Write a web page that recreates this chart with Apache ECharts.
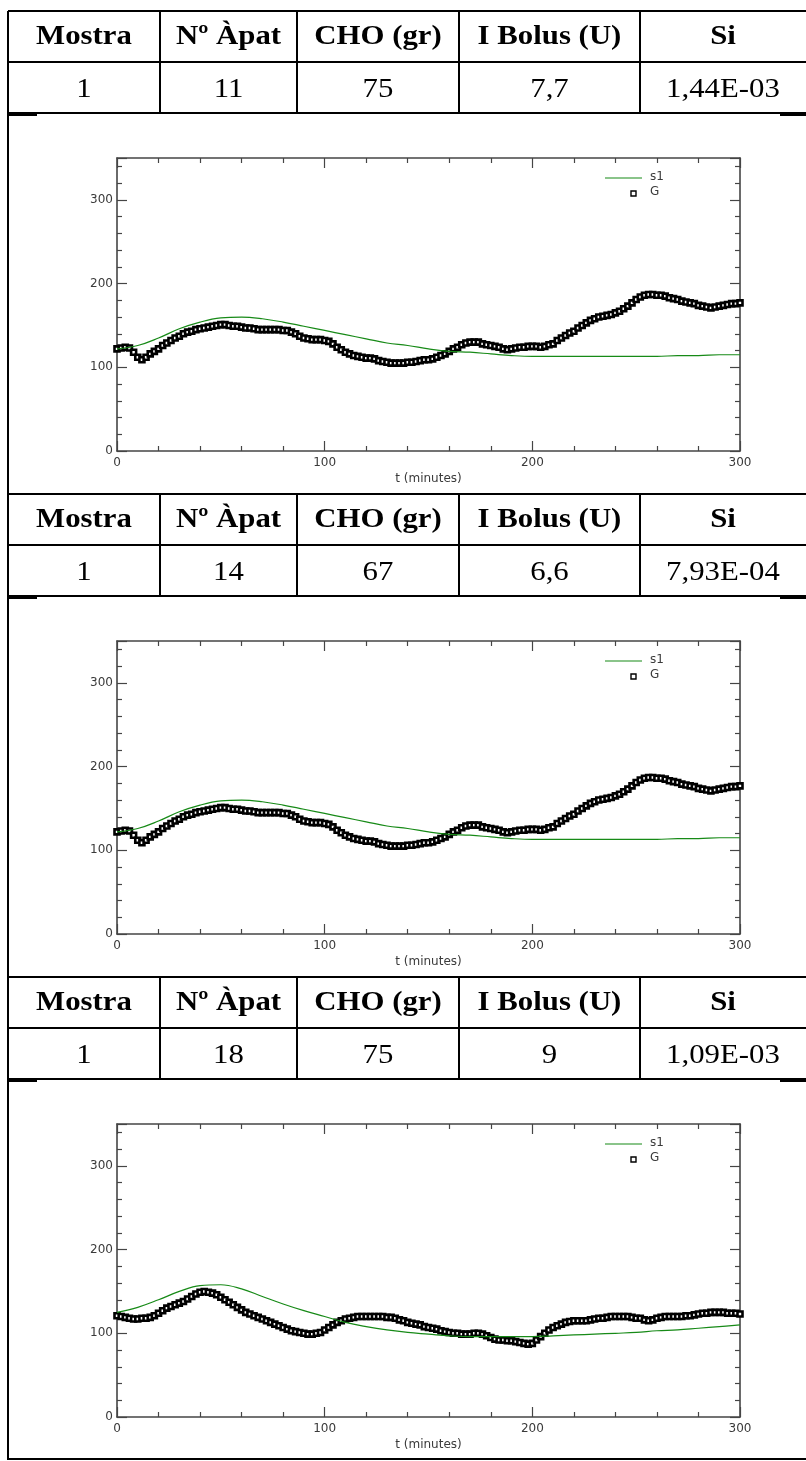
<!DOCTYPE html>
<html>
<head>
<meta charset="utf-8">
<script src="https://cdn.jsdelivr.net/npm/echarts@6/dist/echarts.min.js"></script>
<style>
  html, body { margin: 0; padding: 0; background: #fff; }
  #main { width: 806px; height: 1461px; }
</style>
</head>
<body>
<div id="main"></div>
<script>
// table contents
const headers = ['Mostra', 'Nº Àpat', 'CHO (gr)', 'I Bolus (U)', 'Si'];
const rows = [
  ['1', '11', '75', '7,7', '1,44E-03'],
  ['1', '14', '67', '6,6', '7,93E-04'],
  ['1', '18', '75', '9', '1,09E-03']
];

// model output s1, one value every 10 min (0..300)
const s1Times = [0, 10, 20, 30, 40, 50, 60, 70, 80, 90, 100, 110, 120, 130, 140, 150,
  160, 170, 180, 190, 200, 210, 220, 230, 240, 250, 260, 270, 280, 290, 300];
const s1Meal11 = [122, 126, 135, 146, 154, 159, 160, 158, 154, 149, 144, 139, 134, 129, 126, 122,
  119, 118, 116, 114, 113, 113, 113, 113, 113, 113, 113, 114, 114, 115, 115];
const s1Meal14 = [122, 126, 135, 146, 154, 159, 160, 158, 154, 149, 144, 139, 134, 129, 126, 122,
  119, 118, 116, 114, 113, 113, 113, 113, 113, 113, 113, 114, 114, 115, 115];
const s1Meal18 = [125, 131, 140, 150, 157, 158, 153, 144, 135, 127, 120, 113, 108, 104, 101, 99,
  97, 96, 96, 96, 96, 97, 98, 99, 100, 101, 103, 104, 106, 108, 110];

// measured glucose G, one value every 2 min (0..300)
const gStep = 2;
const gMeal11 = [
  122, 123, 124, 123, 118, 112, 109, 112, 116, 119,
  122, 126, 129, 132, 135, 137, 140, 142, 143, 145,
  146, 147, 148, 149, 150, 151, 151, 150, 149, 149,
  148, 147, 147, 146, 145, 145, 145, 145, 145, 145,
  144, 144, 142, 140, 137, 135, 134, 133, 133, 133,
  132, 131, 128, 124, 121, 118, 116, 114, 113, 112,
  111, 111, 110, 108, 107, 106, 105, 105, 105, 105,
  106, 106, 107, 108, 109, 109, 110, 112, 114, 116,
  119, 122, 124, 127, 129, 130, 130, 130, 128, 127,
  126, 125, 124, 122, 121, 122, 123, 124, 124, 125,
  125, 125, 124, 125, 127, 128, 132, 135, 138, 141,
  143, 147, 150, 153, 156, 158, 160, 161, 162, 163,
  165, 167, 170, 173, 177, 181, 184, 186, 187, 187,
  186, 186, 185, 183, 182, 181, 179, 178, 177, 176,
  174, 173, 172, 171, 172, 173, 174, 175, 176, 176,
  177
];
const gMeal14 = gMeal11.slice();
const gMeal18 = [
  121, 120, 119, 118, 117, 117, 118, 118, 119, 121,
  124, 127, 130, 132, 134, 136, 138, 141, 144, 147,
  149, 150, 149, 148, 146, 143, 140, 137, 134, 131,
  128, 125, 123, 121, 119, 117, 115, 113, 111, 109,
  107, 105, 103, 102, 101, 100, 99, 99, 100, 101,
  104, 107, 110, 113, 115, 117, 118, 119, 120, 120,
  120, 120, 120, 120, 120, 119, 119, 118, 116, 115,
  113, 112, 111, 110, 108, 107, 106, 105, 103, 102,
  101, 100, 100, 99, 99, 99, 100, 100, 99, 97,
  95, 93, 92, 92, 91, 91, 90, 89, 88, 87,
  88, 92, 96, 100, 104, 107, 109, 111, 113, 114,
  115, 115, 115, 115, 116, 117, 118, 118, 119, 120,
  120, 120, 120, 120, 119, 118, 118, 116, 115, 116,
  118, 119, 120, 120, 120, 120, 120, 121, 121, 122,
  123, 124, 124, 125, 125, 125, 125, 124, 124, 124,
  123
];

const panels = [
  { row: rows[0], s1: s1Meal11, g: gMeal11 },
  { row: rows[1], s1: s1Meal14, g: gMeal14 },
  { row: rows[2], s1: s1Meal18, g: gMeal18 }
];

// layout
const blockH = 483;
const tableTop = 11;
const rowH = 51;
const colX = [8, 160, 297, 459, 640, 806];
const plotLeft = 117, plotW = 623, plotH = 293, plotOffset = 147;
const axisColor = '#454545';
const labelFont = { color: '#3a3a3a', fontFamily: 'DejaVu Sans', fontSize: 12 };

const chart = echarts.init(document.getElementById('main'), null, { renderer: 'canvas' });

const grid = [], xAxis = [], yAxis = [], series = [], graphic = [];

function tickAxis(extra) {
  return Object.assign({
    type: 'value',
    axisLine: { onZero: false, lineStyle: { color: axisColor, width: 1.6 } },
    axisTick: { inside: true, length: 10, lineStyle: { color: axisColor, width: 1.2 } },
    minorTick: { show: true, splitNumber: 5, length: 5, lineStyle: { color: axisColor, width: 1.2 } },
    splitLine: { show: false },
    minorSplitLine: { show: false }
  }, extra);
}

function line(x1, y1, x2, y2, w) {
  graphic.push({
    type: 'line', silent: true,
    shape: { x1: x1, y1: y1, x2: x2, y2: y2 },
    style: { stroke: '#000', lineWidth: w || 2 }
  });
}

function cellText(txt, x, y, bold) {
  graphic.push({
    type: 'text', silent: true, x: x, y: y, scaleX: 1.1,
    style: {
      text: txt, x: 0, y: 0, align: 'center', verticalAlign: 'middle',
      fill: '#000', fontFamily: 'Liberation Serif', fontSize: 28,
      fontWeight: bold ? 'bold' : 'normal'
    }
  });
}

panels.forEach((p, i) => {
  const T = tableTop + i * blockH;
  const top = T + plotOffset;

  // table
  [T, T + rowH, T + 2 * rowH].forEach(y => line(colX[0], y, 806, y, 2));
  colX.slice(1, 5).forEach(x => line(x, T, x, T + 2 * rowH, 2));
  line(colX[0], T + 2 * rowH + 2, 37, T + 2 * rowH + 2, 2);
  line(780, T + 2 * rowH + 2, 806, T + 2 * rowH + 2, 2);
  headers.forEach((h, c) => cellText(h, (colX[c] + colX[c + 1]) / 2, T + 26, true));
  p.row.forEach((v, c) => cellText(v, (colX[c] + colX[c + 1]) / 2, T + 79, false));

  // plot
  grid.push({ left: plotLeft, top: top, width: plotW, height: plotH });
  xAxis.push(tickAxis({
    gridIndex: i, position: 'bottom', min: 0, max: 300, interval: 100,
    axisLabel: Object.assign({ margin: 6 }, labelFont),
    name: 't (minutes)', nameLocation: 'middle', nameGap: 22,
    nameTextStyle: labelFont
  }));
  xAxis.push(tickAxis({
    gridIndex: i, position: 'top', min: 0, max: 300, interval: 100,
    axisLabel: { show: false }
  }));
  yAxis.push(tickAxis({
    gridIndex: i, position: 'left', min: 0, max: 350, interval: 100,
    axisLabel: Object.assign({ margin: 4, showMaxLabel: false }, labelFont)
  }));
  yAxis.push(tickAxis({
    gridIndex: i, position: 'right', min: 0, max: 350, interval: 100,
    axisLabel: { show: false }
  }));

  series.push({
    name: 's1', type: 'line', xAxisIndex: 2 * i, yAxisIndex: 2 * i,
    data: s1Times.map((t, k) => [t, p.s1[k]]),
    showSymbol: false, smooth: 0.4, z: 3,
    lineStyle: { color: '#178a17', width: 1.2 }
  });
  series.push({
    name: 'G', type: 'scatter', xAxisIndex: 2 * i, yAxisIndex: 2 * i,
    data: p.g.map((v, k) => [k * gStep, v]),
    symbol: 'rect', symbolSize: 5, z: 2,
    itemStyle: { color: '#fff', borderColor: '#000', borderWidth: 2.6, opacity: 1 }
  });

  // legend inside the plot
  graphic.push({ type: 'line', silent: true, shape: { x1: 605, y1: top + 20, x2: 642, y2: top + 20 },
    style: { stroke: '#178a17', lineWidth: 1.2 } });
  graphic.push({ type: 'rect', silent: true, shape: { x: 631, y: top + 33, width: 5, height: 5 },
    style: { fill: '#fff', stroke: '#000', lineWidth: 1.4 } });
  graphic.push({ type: 'text', silent: true, x: 650, y: top + 19,
    style: Object.assign({ text: 's1', verticalAlign: 'middle' }, labelFont, { fill: '#3a3a3a' }) });
  graphic.push({ type: 'text', silent: true, x: 650, y: top + 34,
    style: Object.assign({ text: 'G', verticalAlign: 'middle' }, labelFont, { fill: '#3a3a3a' }) });
});

// outer frame: left edge and bottom edge
line(colX[0], tableTop, colX[0], 1460, 2);
line(colX[0], 1459, 806, 1459, 2);

chart.setOption({
  animation: false,
  backgroundColor: '#fff',
  grid: grid,
  xAxis: xAxis,
  yAxis: yAxis,
  series: series,
  graphic: graphic
});
</script>
</body>
</html>
